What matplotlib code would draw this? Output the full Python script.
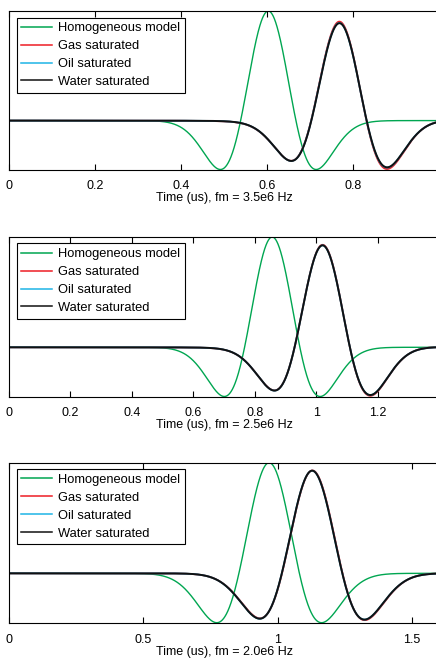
import numpy as np
import matplotlib.pyplot as plt

plt.rcParams['font.family'] = ['Liberation Sans', 'DejaVu Sans']

# centre frequency of each panel (Hz) and visible time span (us)
center_freqs = [3.5e6, 2.5e6, 2.0e6]
time_ends = [1.0, 1.4, 1.6]

# wavelet read-offs: delay of the main peak (us), amplitude, phase rotation (deg)
homog_delays = [0.603, 0.857, 0.968]

gas_delays = [0.774, 1.026, 1.131]
gas_amps = [0.905, 0.93, 0.93]
gas_phases = [-9.5, -6.0, -2.0]

oil_delays = [0.773, 1.025, 1.129]
oil_amps = [0.892, 0.925, 0.928]
oil_phases = [-7.8, -5.0, -1.0]

water_delays = [0.773, 1.025, 1.129]
water_amps = [0.89, 0.925, 0.928]
water_phases = [-7.5, -5.0, -1.0]

tick_values = [[0, 0.2, 0.4, 0.6, 0.8],
               [0, 0.2, 0.4, 0.6, 0.8, 1.0, 1.2],
               [0, 0.5, 1.0, 1.5]]
tick_labels = [['0', '0.2', '0.4', '0.6', '0.8'],
               ['0', '0.2', '0.4', '0.6', '0.8', '1', '1.2'],
               ['0', '0.5', '1', '1.5']]
freq_labels = ['3.5e6', '2.5e6', '2.0e6']

labels = ['Homogeneous model', 'Gas saturated', 'Oil saturated', 'Water saturated']
colors = ['#00a651', '#ed1c24', '#1eb4e6', '#111111']


def ricker(t, fm):
    a = (np.pi * fm * 1e-6 * t) ** 2
    return (1 - 2 * a) * np.exp(-a)


def rotated_ricker(t, fm, delay, amp, phase_deg):
    # padded grid so the FFT wrap-around stays out of view
    dt = t[1] - t[0]
    n = len(t)
    pad = 2 * n
    tt = t[0] + dt * np.arange(-pad, n + pad)
    x = ricker(tt - delay, fm)

    spec = np.fft.fft(x)
    h = np.zeros(len(x))
    h[0] = 1
    h[1:len(x) // 2] = 2
    h[len(x) // 2] = 1
    analytic = np.fft.ifft(spec * h)

    y = amp * np.real(analytic * np.exp(-1j * np.radians(phase_deg)))
    return y[pad:pad + n]


fig = plt.figure(figsize=(4.36, 6.63), dpi=100)

W, H = 436.0, 663.0
panel_px = [(11, 169.5), (237, 396.5), (462.7, 622.7)]

for i in range(3):
    top, bottom = panel_px[i]
    ax = fig.add_axes([9 / W, 1 - bottom / H, 430 / W, (bottom - top) / H])

    fm = center_freqs[i]
    t = np.linspace(0, time_ends[i], 3000)

    ax.plot(t, ricker(t - homog_delays[i], fm), color=colors[0], lw=1.0, label=labels[0])
    ax.plot(t, rotated_ricker(t, fm, gas_delays[i], gas_amps[i], gas_phases[i]),
            color=colors[1], lw=1.3, label=labels[1])
    ax.plot(t, rotated_ricker(t, fm, oil_delays[i], oil_amps[i], oil_phases[i]),
            color=colors[2], lw=1.3, label=labels[2])
    ax.plot(t, rotated_ricker(t, fm, water_delays[i], water_amps[i], water_phases[i]),
            color=colors[3], lw=1.4, label=labels[3])

    ax.set_xlim(0, time_ends[i])
    ax.margins(y=0)
    ax.autoscale(axis='y', tight=True)

    ax.set_xticks(tick_values[i])
    ax.set_xticklabels(tick_labels[i])
    ax.set_yticks([])
    ax.tick_params(axis='x', direction='in', top=True, length=4, width=0.8,
                   pad=7.8, labelsize=9)
    for sp in ax.spines.values():
        sp.set_linewidth(0.8)

    ax.set_xlabel(f'Time (us), fm = {freq_labels[i]} Hz', fontsize=9, labelpad=0)

    leg = ax.legend(loc='upper left', bbox_to_anchor=(7.7 / 430, 1 - 6.5 / (bottom - top)),
                    borderaxespad=0, fontsize=9.3, fancybox=False, framealpha=1,
                    edgecolor='black', handlelength=2.4, handletextpad=0.45,
                    labelspacing=0.46, borderpad=0.35)
    leg.get_frame().set_linewidth(0.8)
    for line in leg.get_lines():
        line.set_linewidth(1.1)

plt.savefig('out.png', dpi=100)
